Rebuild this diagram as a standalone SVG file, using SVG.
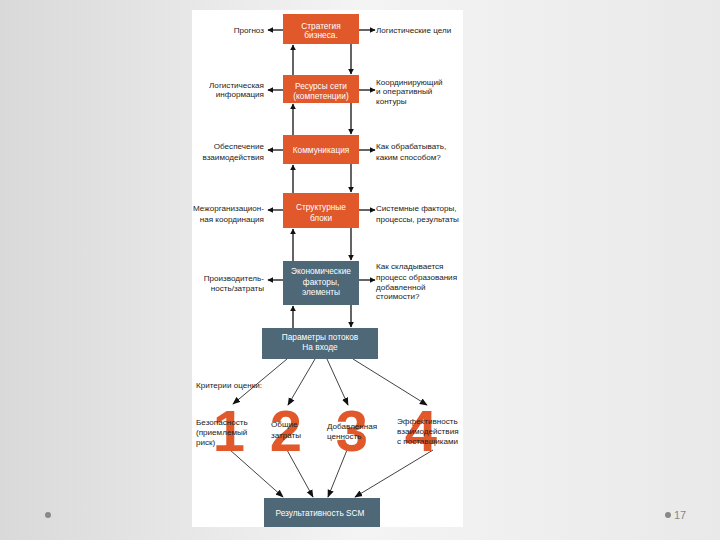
<svg xmlns="http://www.w3.org/2000/svg" width="720" height="540" viewBox="0 0 720 540">
<defs>
<linearGradient id="bg" x1="0" y1="0" x2="1" y2="0">
<stop offset="0" stop-color="#d9d9d9"/>
<stop offset="0.5" stop-color="#f4f4f4"/>
<stop offset="1" stop-color="#e9e9e9"/>
</linearGradient>
<marker id="ah" viewBox="0 0 10 10" refX="9" refY="5" markerWidth="6" markerHeight="6" markerUnits="userSpaceOnUse" orient="auto">
<path d="M0,0 L10,5 L0,10 z" fill="#111"/>
</marker>
<marker id="ahs" viewBox="0 0 10 10" refX="9" refY="5" markerWidth="8" markerHeight="8" markerUnits="userSpaceOnUse" orient="auto">
<path d="M0,1 L10,5 L0,9 z" fill="#111"/>
</marker>
</defs>
<style>
.or{fill:#e1582a}
.sl{fill:#4e6878}
.bt{font-family:"Liberation Sans",Arial,sans-serif;font-size:8.3px;fill:#fff;text-anchor:middle}
.lt{font-family:"Liberation Sans",Arial,sans-serif;font-size:8.1px;fill:#222;text-anchor:end}
.rt{font-family:"Liberation Sans",Arial,sans-serif;font-size:8.1px;fill:#222}
.num{font-family:"Liberation Sans",Arial,sans-serif;font-size:58px;font-weight:bold;fill:#e1582a;text-anchor:middle}
.ln{stroke:#111;stroke-width:1.3;fill:none;marker-end:url(#ah)}
.tn{stroke:#111;stroke-width:0.8;fill:none;marker-end:url(#ahs)}
</style>
<rect width="720" height="540" fill="url(#bg)"/>
<rect x="192" y="10" width="271" height="517" fill="#fff"/>
<circle cx="48" cy="515" r="3" fill="#888"/>
<circle cx="668" cy="515" r="3" fill="#888"/>
<text x="674" y="519" style="font-family:'Liberation Sans',Arial,sans-serif;font-size:11px;fill:#888">17</text>

<g id="connectors">
<line class="ln" x1="293" y1="75" x2="293" y2="45"/>
<line class="ln" x1="351" y1="44" x2="351" y2="74"/>
<line class="ln" x1="293" y1="135" x2="293" y2="104"/>
<line class="ln" x1="351" y1="103" x2="351" y2="134"/>
<line class="ln" x1="293" y1="193" x2="293" y2="165"/>
<line class="ln" x1="351" y1="164" x2="351" y2="192"/>
<line class="ln" x1="293" y1="261" x2="293" y2="229"/>
<line class="ln" x1="351" y1="228" x2="351" y2="260"/>
<line class="ln" x1="293" y1="328" x2="293" y2="306"/>
<line class="ln" x1="351" y1="305" x2="351" y2="327"/>
<line class="ln" x1="283" y1="30" x2="268" y2="30"/>
<line class="ln" x1="359" y1="30" x2="375" y2="30"/>
<line class="ln" x1="283" y1="90" x2="268" y2="90"/>
<line class="ln" x1="359" y1="90" x2="375" y2="90"/>
<line class="ln" x1="283" y1="150" x2="268" y2="150"/>
<line class="ln" x1="359" y1="150" x2="375" y2="150"/>
<line class="ln" x1="283" y1="210" x2="268" y2="210"/>
<line class="ln" x1="359" y1="210" x2="375" y2="210"/>
<line class="ln" x1="283" y1="280" x2="268" y2="280"/>
<line class="ln" x1="359" y1="280" x2="375" y2="280"/>
<line class="tn" x1="287" y1="359" x2="233" y2="404"/>
<line class="tn" x1="315" y1="359" x2="288" y2="405"/>
<line class="tn" x1="327" y1="359" x2="348" y2="405"/>
<line class="tn" x1="353" y1="359" x2="427" y2="405"/>
<line class="tn" x1="230" y1="450" x2="283" y2="497"/>
<line class="tn" x1="287" y1="450" x2="313" y2="497"/>
<line class="tn" x1="347" y1="450" x2="328" y2="497"/>
<line class="tn" x1="433" y1="450" x2="355" y2="497"/>
</g>

<g id="n1"><rect class="or" x="283" y="14" width="76" height="30"/>
<text class="bt" x="321" y="29">Стратегия</text><text class="bt" x="321" y="38">бизнеса.</text></g>
<g id="n2"><rect class="or" x="283" y="75" width="76" height="28"/>
<text class="bt" x="321" y="89">Ресурсы сети</text><text class="bt" x="321" y="99">(компетенции)</text></g>
<g id="n3"><rect class="or" x="283" y="135" width="76" height="29"/>
<text class="bt" x="321" y="153">Коммуникация</text></g>
<g id="n4"><rect class="or" x="283" y="193" width="76" height="35"/>
<text class="bt" x="321" y="210">Структурные</text><text class="bt" x="321" y="221">блоки</text></g>
<g id="n5"><rect class="sl" x="283" y="261" width="76" height="44"/>
<text class="bt" x="321" y="274">Экономические</text><text class="bt" x="321" y="285">факторы,</text><text class="bt" x="321" y="295">элементы</text></g>
<g id="n6"><rect class="sl" x="262" y="328" width="116" height="31"/>
<text class="bt" x="320" y="340">Параметры потоков</text><text class="bt" x="320" y="350">На входе</text></g>
<g id="n7"><rect class="sl" x="264" y="498" width="116" height="29"/>
<text class="bt" x="320" y="516">Результативность SCM</text></g>

<g id="left-labels">
<text class="lt" x="264" y="33">Прогноз</text>
<text class="lt" x="264" y="88">Логистическая</text><text class="lt" x="264" y="97">информация</text>
<text class="lt" x="264" y="149">Обеспечение</text><text class="lt" x="264" y="160">взаимодействия</text>
<text class="lt" x="264" y="211">Межорганизацион-</text><text class="lt" x="264" y="222">ная координация</text>
<text class="lt" x="264" y="281">Производитель-</text><text class="lt" x="264" y="291">ность/затраты</text>
</g>
<g id="right-labels">
<text class="rt" x="376" y="33">Логистические цели</text>
<text class="rt" x="376" y="85">Координирующий</text><text class="rt" x="376" y="94">и оперативный</text><text class="rt" x="376" y="104">контуры</text>
<text class="rt" x="376" y="149">Как обрабатывать,</text><text class="rt" x="376" y="160">каким способом?</text>
<text class="rt" x="376" y="211">Системные факторы,</text><text class="rt" x="376" y="222">процессы, результаты</text>
<text class="rt" x="376" y="269">Как складывается</text><text class="rt" x="376" y="280">процесс образования</text><text class="rt" x="376" y="290">добавленной</text><text class="rt" x="376" y="299">стоимости?</text>
</g>

<g id="criteria">
<text class="rt" x="196" y="388">Критерии оценки:</text>
<text class="num" x="229" y="451">1</text>
<text class="num" x="286" y="451">2</text>
<text class="num" x="352" y="451">3</text>
<text class="num" x="421" y="451">4</text>
<text class="rt" x="196" y="425">Безопасность</text><text class="rt" x="196" y="435">(приемлемый</text><text class="rt" x="196" y="445">риск)</text>
<text class="rt" x="271" y="427">Общие</text><text class="rt" x="271" y="438">затраты</text>
<text class="rt" x="327" y="429">Добавленная</text><text class="rt" x="327" y="439">ценность</text>
<text class="rt" x="397" y="424">Эффективность</text><text class="rt" x="397" y="434">взаимодействия</text><text class="rt" x="397" y="444">с поставщиками</text>
</g>
</svg>
